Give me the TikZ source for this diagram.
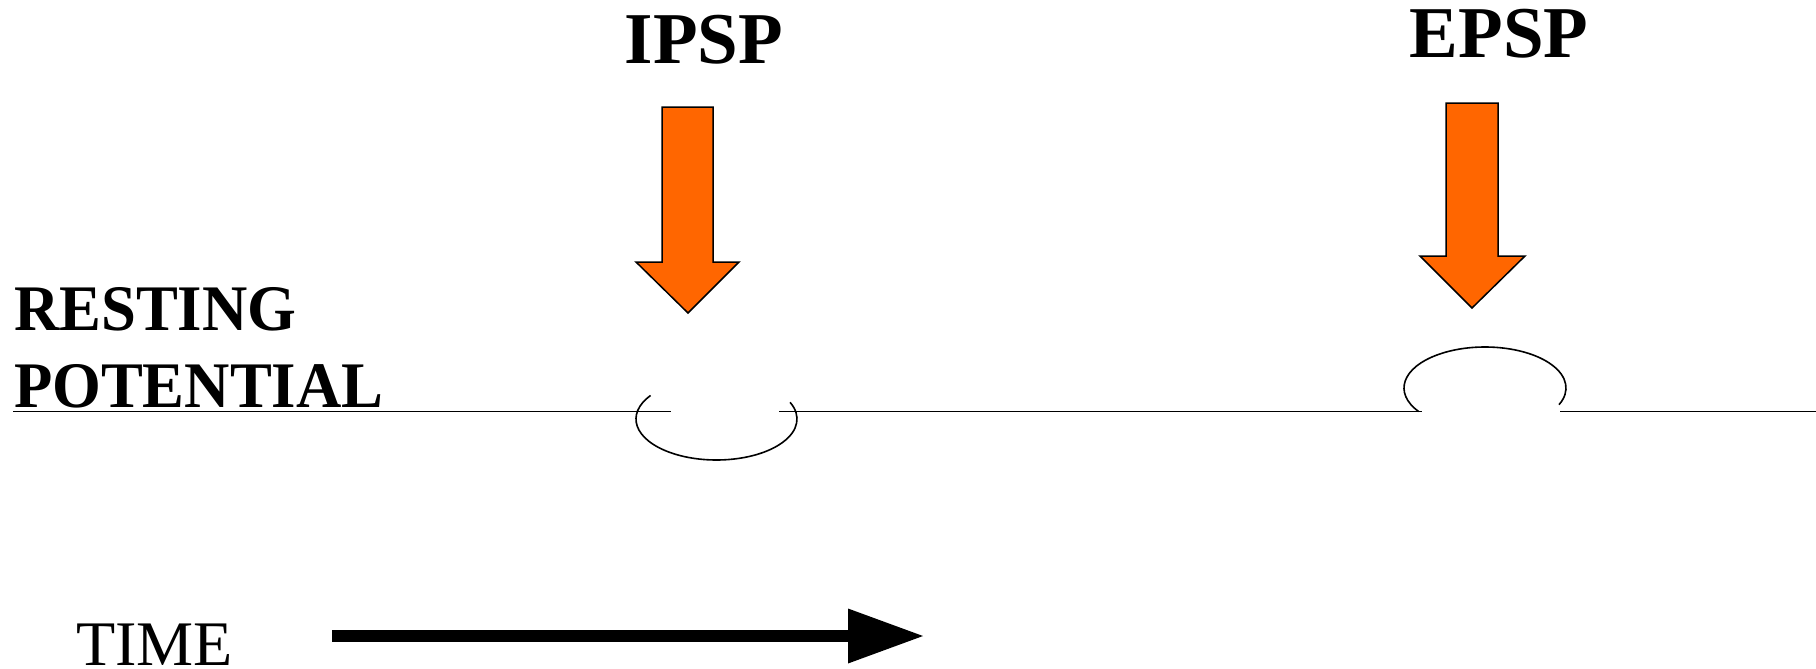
\documentclass[tikz,border=0pt]{standalone}
\usepackage{fontspec}
\setmainfont{Liberation Serif}
\usetikzlibrary{arrows.meta}
\definecolor{sporange}{HTML}{FF6600}
\tikzset{
  lbl/.style={inner sep=0pt, outer sep=0pt},
  bigbold/.style={lbl, font=\fontsize{73}{87}\selectfont\bfseries, anchor=base},
  rest/.style={lbl, font=\fontsize{65}{78}\selectfont\bfseries, anchor=base west},
  timelbl/.style={lbl, font=\fontsize{63.5}{76}\selectfont, anchor=base west},
  potline/.style={line width=1.5pt},
  bump/.style={line width=1.6pt},
  blockarrow/.style={fill=sporange, draw=black, line width=1.5pt, line join=miter},
  timearrow/.style={line width=12pt, -{Triangle[length=75pt, width=55pt, line width=0pt]}},
}
\begin{document}
\begin{tikzpicture}[x=1pt,y=-1pt]
\useasboundingbox (0,0) rectangle (1816,669);

% titles
\node[bigbold] (ipsp) at (704,64) {IPSP};
\node[bigbold] (epsp) at (1499,58) {EPSP};

% resting potential label
\node[rest] (resting) at (14,330) {\scalebox{0.965}[1]{RESTING}};
\node[rest] (potential) at (14,407) {\scalebox{0.965}[1]{POTENTIAL}};

% time label
\node[timelbl] (time) at (76,665) {\scalebox{1.01}[1]{TIME}};

% resting line segments
\coordinate (r0) at (13,411.5);
\coordinate (r1) at (671,411.5);
\coordinate (r2) at (779,411.5);
\coordinate (r3) at (1422,411.5);
\coordinate (r4) at (1560,411.5);
\coordinate (r5) at (1816,411.5);
\draw[potline] (r0) -- (r1);
\draw[potline] (r2) -- (r3);
\draw[potline] (r4) -- (r5);

% IPSP bump (below)
\coordinate (ci) at (716.5,419);
\draw[bump] ([shift={(145:80.5pt and 41pt)}]ci) arc[start angle=145, end angle=384, x radius=80.5pt, y radius=41pt];

% EPSP bump (above)
\coordinate (ce) at (1485,388);
\draw[bump] ([shift={(215:81pt and 41pt)}]ce) arc[start angle=215, end angle=-24, x radius=81pt, y radius=41pt];

% orange block arrows
\draw[blockarrow] (662,107) -- (713,107) -- (713,262) -- (739,262) -- (688,313) -- (636,262) -- (662,262) -- cycle;
\draw[blockarrow] (1446,103) -- (1498,103) -- (1498,256) -- (1525,256) -- (1472,308) -- (1420,256) -- (1446,256) -- cycle;

% time arrow
\coordinate (t0) at (332,636);
\coordinate (t1) at (923,636);
\draw[timearrow] (t0) -- (t1);
\end{tikzpicture}
\end{document}
